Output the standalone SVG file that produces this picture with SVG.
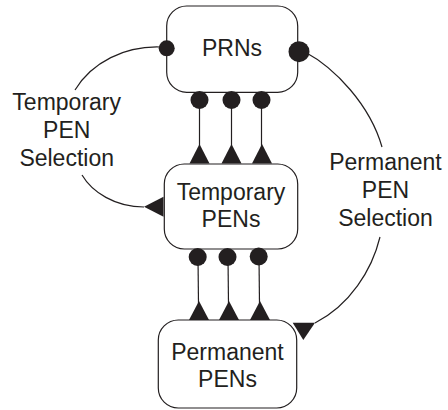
<svg xmlns="http://www.w3.org/2000/svg" width="448" height="410" viewBox="0 0 448 410">
<style>
.box{fill:#fff;stroke:#231f20;stroke-width:1.2}
.ln{fill:none;stroke:#231f20;stroke-width:1.2}
.dot,.tri{fill:#231f20;stroke:none}
text{font-family:"Liberation Sans",Arial,sans-serif;font-size:23px;fill:#231f20;text-anchor:middle}
</style>
<rect width="448" height="410" fill="#fff"/>
<g id="connectors">
<path class="ln" d="M160,47 C125,46 92,62 75,90"/>
<path class="ln" d="M82,175 C92,192 115,207 144,207"/>
<path class="ln" d="M305,52 C335,68 370,105 382,147"/>
<path class="ln" d="M380,237 C372,270 350,305 315,323"/>
<line class="ln" x1="199.5" y1="100" x2="199.5" y2="150"/>
<line class="ln" x1="231.5" y1="100" x2="231.5" y2="150"/>
<line class="ln" x1="261.5" y1="100" x2="261.5" y2="150"/>
<line class="ln" x1="198" y1="257" x2="198.5" y2="305"/>
<line class="ln" x1="228" y1="257" x2="228.5" y2="305"/>
<line class="ln" x1="259" y1="257" x2="259.5" y2="305"/>
<polygon class="tri" points="199.5,144 189.5,163.5 209.5,163.5"/>
<polygon class="tri" points="231.5,144 221.5,163.5 241.5,163.5"/>
<polygon class="tri" points="262,144 252,163.5 272,163.5"/>
<polygon class="tri" points="199,301 189,320 209,320"/>
<polygon class="tri" points="229,301 219,320 239,320"/>
<polygon class="tri" points="260,301 250,320 270,320"/>
<polygon class="tri" points="144,206.7 163.5,196.7 163.5,216.7"/>
<polygon class="tri" points="292.7,322.7 315,322.7 303.3,340"/>
<text x="66.7" y="110">Temporary</text>
<text x="66.7" y="138">PEN</text>
<text x="66.7" y="165.5">Selection</text>
<text x="385.5" y="170">Permanent</text>
<text x="385.5" y="198">PEN</text>
<text x="385.5" y="225.5">Selection</text>
</g>
<g id="prns">
<rect class="box" x="166.7" y="6" width="131" height="86.3" rx="20" ry="20"/>
<text x="232" y="56">PRNs</text>
<circle class="dot" cx="166.7" cy="48.3" r="8"/>
<circle class="dot" cx="299" cy="51.7" r="10.5"/>
<circle class="dot" cx="199.5" cy="100" r="9"/>
<circle class="dot" cx="231.5" cy="100" r="9"/>
<circle class="dot" cx="261.5" cy="100" r="9"/>
</g>
<g id="temporary-pens">
<rect class="box" x="164.3" y="164" width="133.4" height="85" rx="20" ry="20"/>
<text x="231" y="200">Temporary</text>
<text x="231" y="227">PENs</text>
<circle class="dot" cx="197.7" cy="257" r="9"/>
<circle class="dot" cx="227.5" cy="257" r="9"/>
<circle class="dot" cx="258.7" cy="256.5" r="9"/>
</g>
<g id="permanent-pens">
<rect class="box" x="158.3" y="320" width="138.4" height="88" rx="20" ry="20"/>
<text x="227.5" y="360">Permanent</text>
<text x="227.5" y="387">PENs</text>
</g>
</svg>
